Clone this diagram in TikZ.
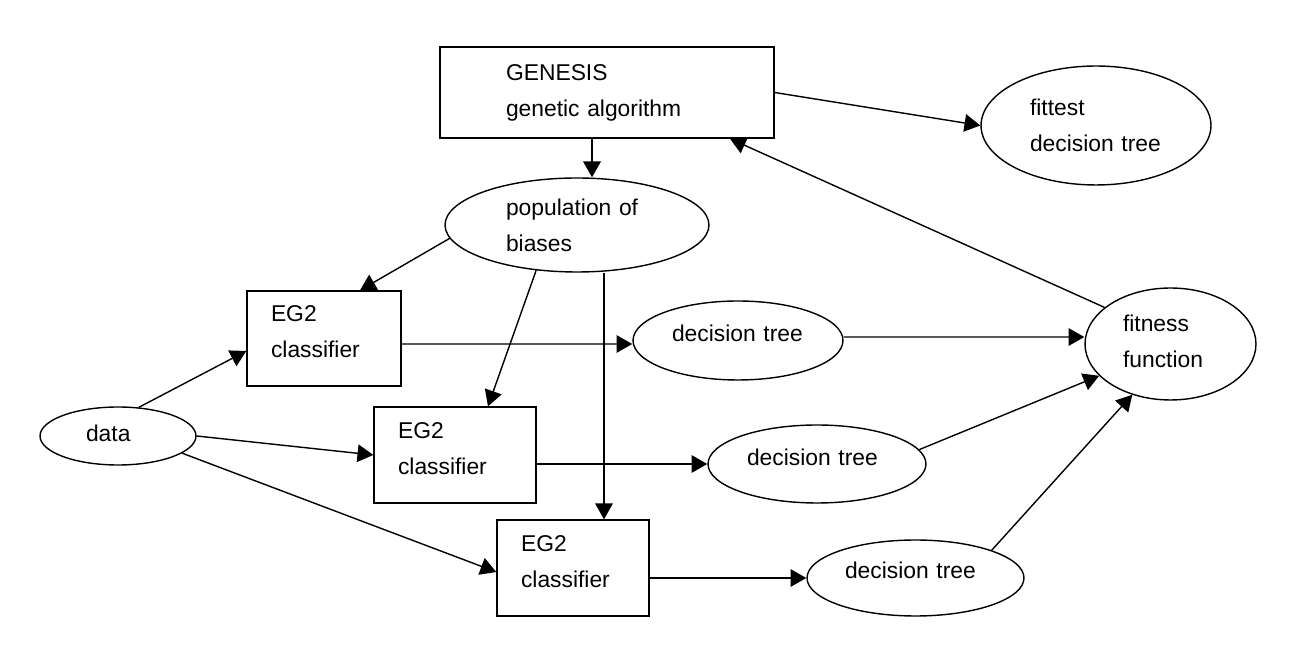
\documentclass[tikz,border=0pt]{standalone}
\usepackage{fontspec}
\setmainfont{Liberation Sans}
\usetikzlibrary{shapes.geometric,arrows.meta}
\newcommand{\lblfont}{\fontsize{13}{20.4}\selectfont}

\begin{document}
\begin{tikzpicture}[x=0.02cm, y=-0.02cm,
    every node/.style={line width=0.8pt, font=\lblfont},
    box/.style={draw, rectangle, align=left},
    oval/.style={draw, ellipse, inner sep=0pt, align=left},
    arr/.style={line width=0.8pt, -{Triangle[length=9pt, width=10pt]}}]
  \useasboundingbox (0,0) rectangle (1295,661);

  \node [box, minimum width=6.68cm, minimum height=1.82cm, text width=4.04cm]
    (gen) at (607,92.5) {GENESIS\\genetic algorithm};
  \node [oval, minimum width=4.6cm, minimum height=2.38cm, text width=2.64cm]
    (fittest) at (1096,125.5) {fittest\\decision tree};
  \node [oval, minimum width=5.28cm, minimum height=1.88cm, text width=2.84cm]
    (pop) at (577,225) {population of\\biases};

  \node [box, minimum width=3.08cm, minimum height=1.9cm, text width=2.12cm, text depth=28pt]
    (eg1) at (324,338.5) {EG2\\classifier};
  \node [box, minimum width=3.24cm, minimum height=1.92cm, text width=2.28cm, text depth=28pt]
    (eg2) at (455,455) {EG2\\classifier};
  \node [box, minimum width=3.04cm, minimum height=1.92cm, text width=2.08cm, text depth=28pt]
    (eg3) at (573,568) {EG2\\classifier};

  \node [oval, minimum width=3.12cm, minimum height=1.16cm, text width=1.28cm, text depth=0.12cm]
    (data) at (118,436) {data};

  \node [oval, minimum width=4.2cm, minimum height=1.58cm, text width=2.64cm, text depth=0.28cm]
    (dt1) at (738,340.5) {decision tree};
  \node [oval, minimum width=4.36cm, minimum height=1.56cm, text width=2.8cm, text depth=0.28cm]
    (dt2) at (817,464) {decision tree};
  \node [oval, minimum width=4.34cm, minimum height=1.52cm, text width=2.82cm, text depth=0.3cm]
    (dt3) at (915.5,578) {decision tree};

  \node [oval, minimum width=3.42cm, minimum height=2.24cm, text width=1.9cm, text depth=23.8pt]
    (fitfun) at (1170.5,344) {fitness\\function};

  \path ([xshift=-0.3cm]gen.south) coordinate (genout)
        ([xshift=2.46cm]gen.south) coordinate (genin)
        ([xshift=0.72cm]eg1.north) coordinate (eg1in)
        ([xshift=0.66cm]eg2.north) coordinate (eg2in)
        ([xshift=0.62cm]eg3.north) coordinate (eg3in);

  \draw [arr] (genout) -- (genout |- pop.north);
  \draw [arr] (gen.east) -- (fittest.west);
  \draw [arr] (fitfun.151) -- (genin);

  \draw [arr] (pop.186) -- (eg1in);
  \draw [arr] (pop.228) -- (eg2in);
  \draw [arr] (pop.south -| eg3in) -- (eg3in);

  \draw [arr] (data.54) -- ([yshift=-0.25cm]eg1.west);
  \draw [arr] (data.east) -- (eg2.west);
  \draw [arr] (data.345) -- ([yshift=-0.08cm]eg3.west);

  \draw [arr] ([yshift=-0.11cm]eg1.east) -- ([yshift=-0.07cm]dt1.west);
  \draw [arr] (eg2.east |- dt2.west) -- (dt2.west);
  \draw [arr] (eg3.east |- dt3.west) -- (dt3.west);

  \draw [arr] ([yshift=0.07cm]dt1.east) -- ([yshift=0.14cm]fitfun.west);
  \draw [arr] (dt2.8) -- (fitfun.204);
  \draw [arr] (dt3.20) -- (fitfun.233);
\end{tikzpicture}
\end{document}
